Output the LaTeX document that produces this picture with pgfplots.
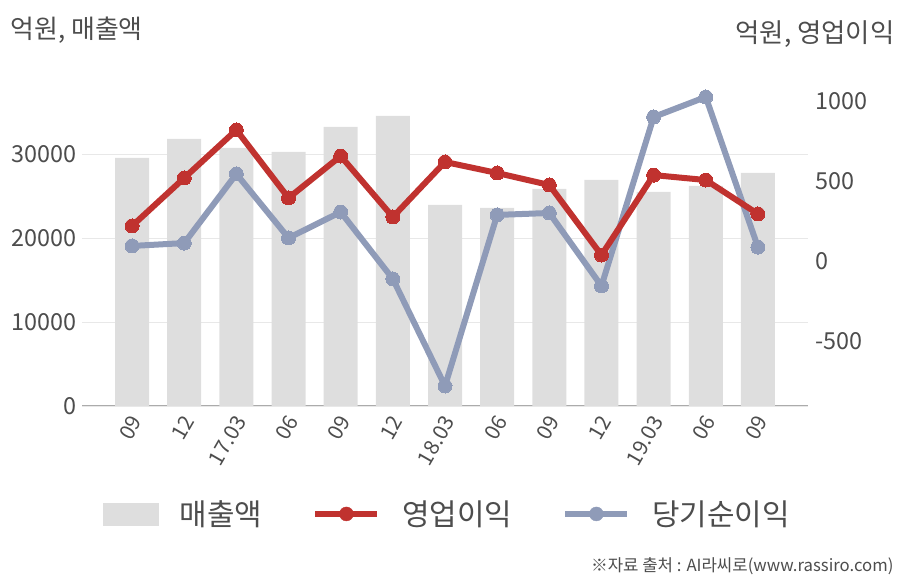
\documentclass[border=0pt]{standalone}
\usepackage{fontspec}
\setmainfont{Noto Sans CJK KR}
\usepackage{pgfplots}
\pgfplotsset{compat=1.18}
\definecolor{barc}{HTML}{DEDEDE}
\definecolor{redc}{HTML}{C0322F}
\definecolor{bluec}{HTML}{8F9BB8}
\definecolor{txt}{HTML}{4D4D4D}
\definecolor{gridc}{HTML}{E8E8E8}
\definecolor{axc}{HTML}{ABABAB}
\begin{document}
\begin{tikzpicture}
\useasboundingbox (0bp,0bp) rectangle (908bp,580bp);
\begin{axis}[at={(82bp,174bp)}, anchor=south west, scale only axis,
  width=726bp, height=346bp,
  xmin=-0.96, xmax=12.96, ymin=0, ymax=41190,
  axis x line*=bottom, axis y line*=left,
  y axis line style={draw=none},
  x axis line style={draw=axc, line width=1bp},
  major tick length=0pt,
  ytick={0,10000,20000,30000},
  ymajorgrids, grid style={draw=gridc, line width=0.8bp},
  xtick={0,...,12},
  xticklabels={09,12,17.03,06,09,12,18.03,06,09,12,19.03,06,09},
  xticklabel style={xshift=6bp, yshift=-9bp, rotate=60, anchor=east, font=\fontsize{21}{24}\selectfont},
  yticklabel style={font=\fontsize{23.5}{26}\selectfont, xshift=-2bp},
  ticklabel style={text=txt},
  scaled y ticks=false,
  /pgf/number format/assume math mode=true,
  yticklabel={\pgfmathprintnumber[fixed, 1000 sep={}]{\tick}},
  clip=false,
]
\addplot[ybar, bar width=34bp, fill=barc, draw=none] coordinates {
(0,29524) (1,31786) (2,30714) (3,30238) (4,33214) (5,34524) (6,23929) (7,23571) (8,25833) (9,26905) (10,25476) (11,26190) (12,27738)};
\end{axis}
\begin{axis}[at={(82bp,174bp)}, anchor=south west, scale only axis,
  width=726bp, height=346bp,
  xmin=-0.96, xmax=12.96, ymin=-906.25, ymax=1256.25,
  axis x line=none, axis y line*=right,
  y axis line style={draw=none},
  major tick length=0pt,
  ytick={-500,0,500,1000},
  yticklabel style={font=\fontsize{23.5}{26}\selectfont, text=txt, xshift=4bp},
  /pgf/number format/assume math mode=true,
  yticklabel={\pgfmathprintnumber[fixed, 1000 sep={}]{\tick}},
  legend columns=3,
  legend style={draw=none, fill=none, at={(0.503,-0.312)}, anchor=center,
    font=\fontsize{30}{34}\selectfont, text=txt,
    /tikz/every odd column/.append style={column sep=20bp},
    /tikz/every even column/.append style={column sep=48bp}},
  legend cell align=left,
  clip=false,
]
\addlegendimage{legend image code/.code={\fill[barc] (0bp,-11bp) rectangle (55bp,11bp);}}
\addlegendentry{매출액}
\addlegendimage{legend image code/.code={\draw[redc, line width=6bp] (0bp,0bp) -- (62bp,0bp); \fill[redc] (31bp,0bp) circle (7bp);}}
\addlegendentry{영업이익}
\addlegendimage{legend image code/.code={\draw[bluec, line width=6bp] (0bp,0bp) -- (62bp,0bp); \fill[bluec] (31bp,0bp) circle (7bp);}}
\addlegendentry{당기순이익}
\addplot[forget plot, draw=bluec, line width=6bp, mark=*, mark size=7bp, mark options={fill=bluec, draw=bluec, line width=0pt}] coordinates {
(0,94) (1,112) (2,544) (3,144) (4,306) (5,-112) (6,-781) (7,288) (8,300) (9,-156) (10,900) (11,1025) (12,87)};
\addplot[forget plot, draw=redc, line width=6bp, mark=*, mark size=7bp, mark options={fill=redc, draw=redc, line width=0pt}] coordinates {
(0,219) (1,519) (2,819) (3,394) (4,656) (5,275) (6,619) (7,550) (8,475) (9,37) (10,537) (11,506) (12,294)};
\end{axis}
\node[anchor=west, text=txt, font=\fontsize{26}{30}\selectfont] at (7bp,550bp) {억원, 매출액};
\node[anchor=east, text=txt, font=\fontsize{26.5}{30}\selectfont] at (898bp,546bp) {억원, 영업이익};
\node[anchor=east, text=txt, font=\fontsize{16.8}{20}\selectfont] at (897bp,14bp) {※자료 출처 : AI라씨로(www.rassiro.com)};
\end{tikzpicture}
\end{document}
